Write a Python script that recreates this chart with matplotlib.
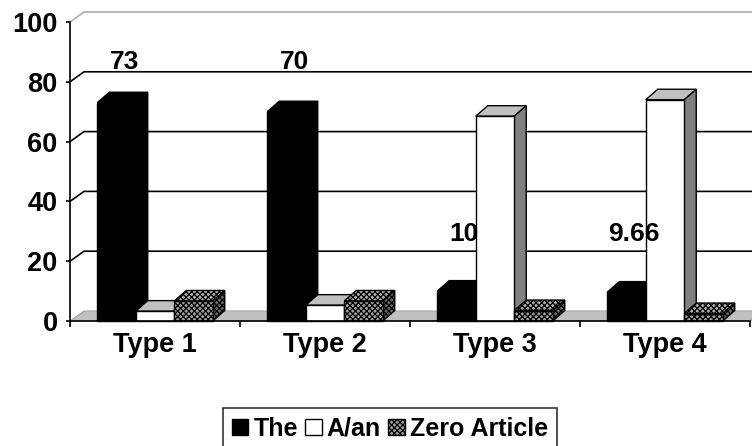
import matplotlib
matplotlib.use("Agg")
import matplotlib.pyplot as plt
from matplotlib.patches import Polygon, Patch
import numpy as np

# ---- data ----
categories = ["Type 1", "Type 2", "Type 3", "Type 4"]
series_names = ["The", "A/an", "Zero Article"]
the_vals = [73, 70, 10, 9.66]
a_an_vals = [3.3, 5.3, 68.5, 74.0]
zero_vals = [6.7, 6.7, 3.5, 2.5]
y_ticks = [0, 20, 40, 60, 80, 100]

# ---- style ----
plt.rcParams["font.family"] = ["Liberation Sans", "DejaVu Sans"]
plt.rcParams["font.weight"] = "bold"
plt.rcParams["hatch.linewidth"] = 0.9
FS_TICK = 19.5
FS_LABEL = 19
FS_LEG = 18

W, H, DPI = 752, 446, 100
fig = plt.figure(figsize=(W / DPI, H / DPI), dpi=DPI)
fig.patch.set_facecolor("white")

# axes rectangle in pixels (front plane)
ax_l, ax_r, ax_t, ax_b = 70, 750, 22, 321
ax = fig.add_axes([ax_l / W, 1 - ax_b / H, (ax_r - ax_l) / W, (ax_b - ax_t) / H])
ax.set_xlim(-0.5, 3.5)
ax.set_ylim(0, 100)
ax.patch.set_alpha(0)

px_x = (ax_r - ax_l) / 4.0        # pixels per x unit
px_y = (ax_b - ax_t) / 100.0      # pixels per y unit

# 3-D depth offsets (pixels -> data units)
wall_dx, wall_dy = 14 / px_x, 10 / px_y
bar_dx, bar_dy = 12 / px_x, 10.5 / px_y

x = np.arange(len(categories))
bw = 38.5 / px_x

# floor
floor = Polygon([(-0.5, 0), (3.5, 0), (3.5 + wall_dx, wall_dy), (-0.5 + wall_dx, wall_dy)],
                closed=True, facecolor="#c0c0c0", edgecolor="#a8a8a8", lw=0.8,
                zorder=1, clip_on=False)
ax.add_patch(floor)

# back-wall gridlines with the diagonal on the side wall
for v in y_ticks[1:-1]:
    ax.plot([-0.5, -0.5 + wall_dx, 3.5 + wall_dx], [v, v + wall_dy, v + wall_dy],
            color="black", lw=1.2, zorder=0.5, clip_on=False, solid_capstyle="butt")
top = y_ticks[-1]
ax.plot([-0.5, -0.5 + wall_dx, 3.5 + wall_dx], [top, top + wall_dy, top + wall_dy],
        color="#b8b8b8", lw=1.4, zorder=0.5, clip_on=False)

# series styling: (front, top, side, hatch)
HATCH = "xxxxxx"
styles = [
    dict(front="black", top="black", side="black", hatch=None),
    dict(front="white", top="#c0c0c0", side="#808080", hatch=None),
    dict(front="#a0a0a0", top="#b0b0b0", side="#686868", hatch=HATCH),
]
series = [the_vals, a_an_vals, zero_vals]
offsets = [-bw, 0.0, bw]

containers = []
for s, (vals, off, st) in enumerate(zip(series, offsets, styles)):
    bars = ax.bar(x + off, vals, width=bw, color=st["front"], edgecolor="black",
                  lw=1.0, hatch=st["hatch"], clip_on=False)
    containers.append(bars)

# faces drawn left to right so nearer bars overlap the sides of earlier ones
z = 2
for i in range(len(categories)):
    for s, st in enumerate(styles):
        rect = containers[s].patches[i]
        x0 = rect.get_x()
        x1 = x0 + rect.get_width()
        h = rect.get_height()
        top_face = Polygon([(x0, h), (x1, h), (x1 + bar_dx, h + bar_dy), (x0 + bar_dx, h + bar_dy)],
                           closed=True, facecolor=st["top"], edgecolor="black", lw=1.0,
                           hatch=st["hatch"], zorder=z, clip_on=False)
        side_face = Polygon([(x1, 0), (x1 + bar_dx, bar_dy), (x1 + bar_dx, h + bar_dy), (x1, h)],
                            closed=True, facecolor=st["side"], edgecolor="black", lw=1.0,
                            hatch=st["hatch"], zorder=z, clip_on=False)
        ax.add_patch(top_face)
        ax.add_patch(side_face)
        rect.set_zorder(z + 0.5)
        z += 1

# value labels for "The"
label_y = [86.5, 86.5, 29.0, 29.0]
for i, (v, ly) in enumerate(zip(the_vals, label_y)):
    ax.text(x[i] - bw + bar_dx / 2 + 0.01, ly, f"{v:g}", ha="center", va="center",
            fontsize=FS_LABEL, fontweight="bold", zorder=50)

# axes / ticks
for sp in ["top", "right"]:
    ax.spines[sp].set_visible(False)
ax.spines["left"].set_linewidth(1.2)
ax.spines["bottom"].set_linewidth(1.2)
ax.spines["left"].set_zorder(60)
ax.spines["bottom"].set_zorder(60)

ax.set_yticks(y_ticks)
ax.set_yticklabels([str(t) for t in y_ticks], fontsize=FS_TICK, fontweight="bold")
ax.tick_params(axis="y", direction="out", length=3, width=1.2, pad=6)

ax.set_xticks(np.arange(-0.5, 4.0, 1.0))
ax.set_xticklabels([])
ax.tick_params(axis="x", which="major", direction="out", length=4, width=1.2)
ax.set_xticks(x, minor=True)
ax.set_xticklabels(categories, minor=True, fontsize=FS_TICK, fontweight="bold")
ax.tick_params(axis="x", which="minor", length=0, pad=8)

# legend
handles = [
    Patch(facecolor="black", edgecolor="black", lw=1.0),
    Patch(facecolor="white", edgecolor="black", lw=1.0),
    Patch(facecolor="#a0a0a0", edgecolor="black", lw=1.0, hatch=HATCH),
]
leg = fig.legend(handles, series_names, loc="upper center",
                 bbox_to_anchor=(390 / W, 1 - 408 / H), ncol=3, frameon=True,
                 fancybox=False, prop=dict(size=FS_LEG, weight="bold"),
                 handlelength=0.65, handleheight=0.65, handletextpad=0.2,
                 columnspacing=0.3, borderpad=0.35, borderaxespad=0)
leg.get_frame().set_edgecolor("black")
leg.get_frame().set_linewidth(1.2)

fig.savefig("out.png", dpi=DPI)
